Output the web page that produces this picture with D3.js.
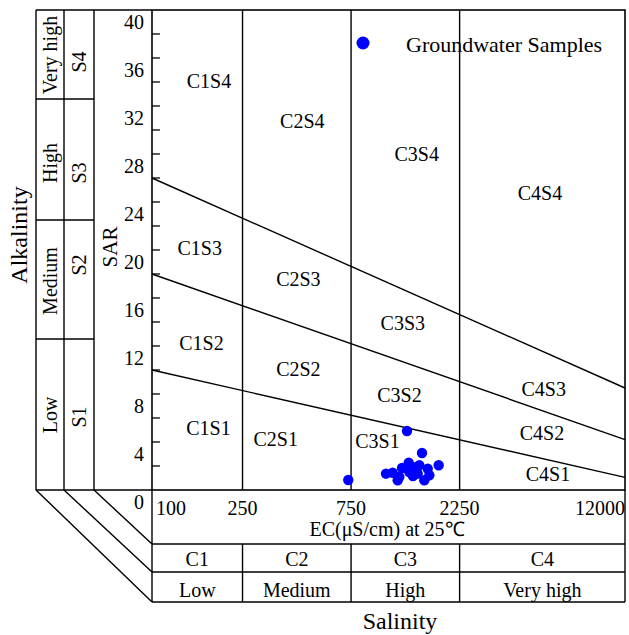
<!DOCTYPE html>
<html lang="en">
<head>
    <meta charset="UTF-8">
    <title>USSL salinity diagram</title>
    <script src="https://d3js.org/d3.v7.min.js"></script>
    <style>
        body { margin: 0; background: #fff; }
        text { font-family: "Liberation Serif", "Times New Roman", serif; fill: #000; }
    </style>
</head>
<body>
<script>
    // EC class limits (µS/cm) and SAR tick labels
    const ecBreaks = [100, 250, 750, 2250, 12000];
    const sarTicks = [0, 4, 8, 12, 16, 20, 24, 28, 32, 36, 40];
    const salinityClasses = ["C1", "C2", "C3", "C4"];
    const salinityNames = ["Low", "Medium", "High", "Very high"];
    const sodiumClasses = ["S4", "S3", "S2", "S1"];
    const sodiumNames = ["Very high", "High", "Medium", "Low"];

    // hazard lines, [EC, SAR] at both ends
    const lineS1S2 = [[100, 10], [12000, 1.05]];
    const lineS2S3 = [[100, 18], [12000, 4.2]];
    const lineS3S4 = [[100, 26], [12000, 8.5]];

    // groundwater samples
    const sampleEC = [729, 1321, 1538, 1068, 1143, 1222, 1256, 1344, 1399, 1352,
                      1496, 1472, 1574, 1629, 1656, 1820, 1202, 1403];
    const sampleSAR = [0.83, 4.92, 3.08, 1.36, 1.44, 1.08, 1.83, 2.28, 1.92, 1.5,
                       2.06, 1.36, 0.81, 1.78, 1.23, 2.06, 0.81, 1.17];

    // zone labels, placed in data units
    const zoneNames = ["C1S4", "C2S4", "C3S4", "C4S4", "C1S3", "C2S3", "C3S3", "C4S3",
                       "C1S2", "C2S2", "C3S2", "C4S2", "C1S1", "C2S1", "C3S1", "C4S1"];
    const zoneEC = [178, 458, 1457, 5076, 162, 440, 1266, 5270,
                    165, 440, 1224, 5180, 177, 350, 980, 5505];
    const zoneSAR = [33.5, 30.2, 27.4, 24.2, 19.6, 17, 13.3, 7.86,
                     11.7, 9.5, 7.36, 4.17, 4.58, 3.67, 3.47, 0.78];

    const W = 629, H = 635;
    const L = 152, R = 625, T = 10, B = 490;

    const svg = d3.select("body").append("svg")
        .attr("width", W)
        .attr("height", H);

    const x = d3.scaleLog().domain([100, 12000]).range([L, R]);
    const y = d3.scaleLinear().domain([0, 40]).range([B, T]);

    const line = d3.line().x(d => x(d[0])).y(d => y(d[1]));

    function seg(x1, y1, x2, y2, w) {
        svg.append("line")
            .attr("x1", x1).attr("y1", y1).attr("x2", x2).attr("y2", y2)
            .attr("stroke", "#000").attr("stroke-width", w || 1.4);
    }

    // plot frame
    svg.append("rect")
        .attr("x", L).attr("y", T).attr("width", R - L).attr("height", B - T)
        .attr("fill", "none").attr("stroke", "#000").attr("stroke-width", 1.6);

    // vertical class lines
    ecBreaks.slice(1, -1).forEach(v => seg(x(v), T, x(v), B));

    // hazard lines
    [lineS1S2, lineS2S3, lineS3S4].forEach(l => {
        svg.append("path").attr("d", line(l))
            .attr("fill", "none").attr("stroke", "#000").attr("stroke-width", 1.4);
    });

    // SAR ticks, every 2 units, pointing inward
    d3.range(2, 40, 2).forEach(v => seg(L, y(v), L + 8, y(v), 1.3));
    svg.selectAll(".sarlab").data(sarTicks).enter().append("text")
        .attr("x", 144).attr("y", d => y(d) + 19)
        .attr("text-anchor", "end").attr("font-size", 20)
        .text(d => d);

    // left strips
    const sx = [36, 64, 94, L];
    const sy = [T, 99, 220, 339, B];
    seg(sx[0], T, L, T, 1.6);
    seg(sx[0], B, L, B, 1.6);
    sx.slice(0, 3).forEach(v => seg(v, T, v, B, 1.4));
    sy.slice(1, 4).forEach(v => seg(sx[0], v, sx[2], v, 1.4));

    // diagonals to the table below
    const rowY = [B, 544, 572, 602];
    seg(sx[0], B, L, rowY[3], 1.4);
    seg(sx[1], B, L, rowY[2], 1.4);
    seg(sx[2], B, L, rowY[1], 1.4);

    function vtext(cx, cy, t, size) {
        svg.append("text")
            .attr("transform", `translate(${cx},${cy}) rotate(-90)`)
            .attr("text-anchor", "middle").attr("dy", "0.35em")
            .attr("font-size", size).text(t);
    }
    const nameY = [55, 163, 281, 415];
    const classY = [62, 173, 265, 417];
    sodiumNames.forEach((t, i) => vtext(50, nameY[i], t, 20));
    sodiumClasses.forEach((t, i) => vtext(79, classY[i], t, 20));
    vtext(110, 247, "SAR", 21);
    vtext(19, 235, "Alkalinity", 24);

    // bottom table
    seg(L, B, L, rowY[3], 1.4);
    seg(R, B, R, rowY[3], 1.4);
    rowY.slice(1).forEach(v => seg(L, v, R, v, 1.4));
    ecBreaks.slice(1, -1).forEach(v => seg(x(v), rowY[1], x(v), rowY[3], 1.4));

    svg.selectAll(".eclab").data(ecBreaks).enter().append("text")
        .attr("x", (d, i) => i === 0 ? x(d) + 4 : x(d))
        .attr("y", 515)
        .attr("text-anchor", (d, i) => i === 0 ? "start" : (i === ecBreaks.length - 1 ? "end" : "middle"))
        .attr("font-size", 20)
        .text(d => d);
    svg.append("text").attr("x", 387).attr("y", 536)
        .attr("text-anchor", "middle").attr("font-size", 20)
        .text("EC(μS/cm) at 25℃");

    const colMid = d3.range(4).map(i => (x(ecBreaks[i]) + x(ecBreaks[i + 1])) / 2);
    salinityClasses.forEach((t, i) => {
        svg.append("text").attr("x", colMid[i]).attr("y", 566)
            .attr("text-anchor", "middle").attr("font-size", 20).text(t);
    });
    salinityNames.forEach((t, i) => {
        svg.append("text").attr("x", colMid[i]).attr("y", 597)
            .attr("text-anchor", "middle").attr("font-size", 20).text(t);
    });
    svg.append("text").attr("x", 400).attr("y", 629)
        .attr("text-anchor", "middle").attr("font-size", 24).text("Salinity");

    // zone labels
    zoneNames.forEach((t, i) => {
        svg.append("text")
            .attr("x", x(zoneEC[i])).attr("y", y(zoneSAR[i]))
            .attr("text-anchor", "middle").attr("font-size", 20).text(t);
    });

    // samples
    svg.selectAll(".pt").data(sampleEC).enter().append("circle")
        .attr("cx", d => x(d))
        .attr("cy", (d, i) => y(sampleSAR[i]))
        .attr("r", 5.2)
        .attr("fill", "#0000ff");

    // legend
    svg.append("circle").attr("cx", 363).attr("cy", 43).attr("r", 6.5).attr("fill", "#0000ff");
    svg.append("text").attr("x", 406).attr("y", 52)
        .attr("font-size", 22).text("Groundwater Samples");
</script>
</body>
</html>
